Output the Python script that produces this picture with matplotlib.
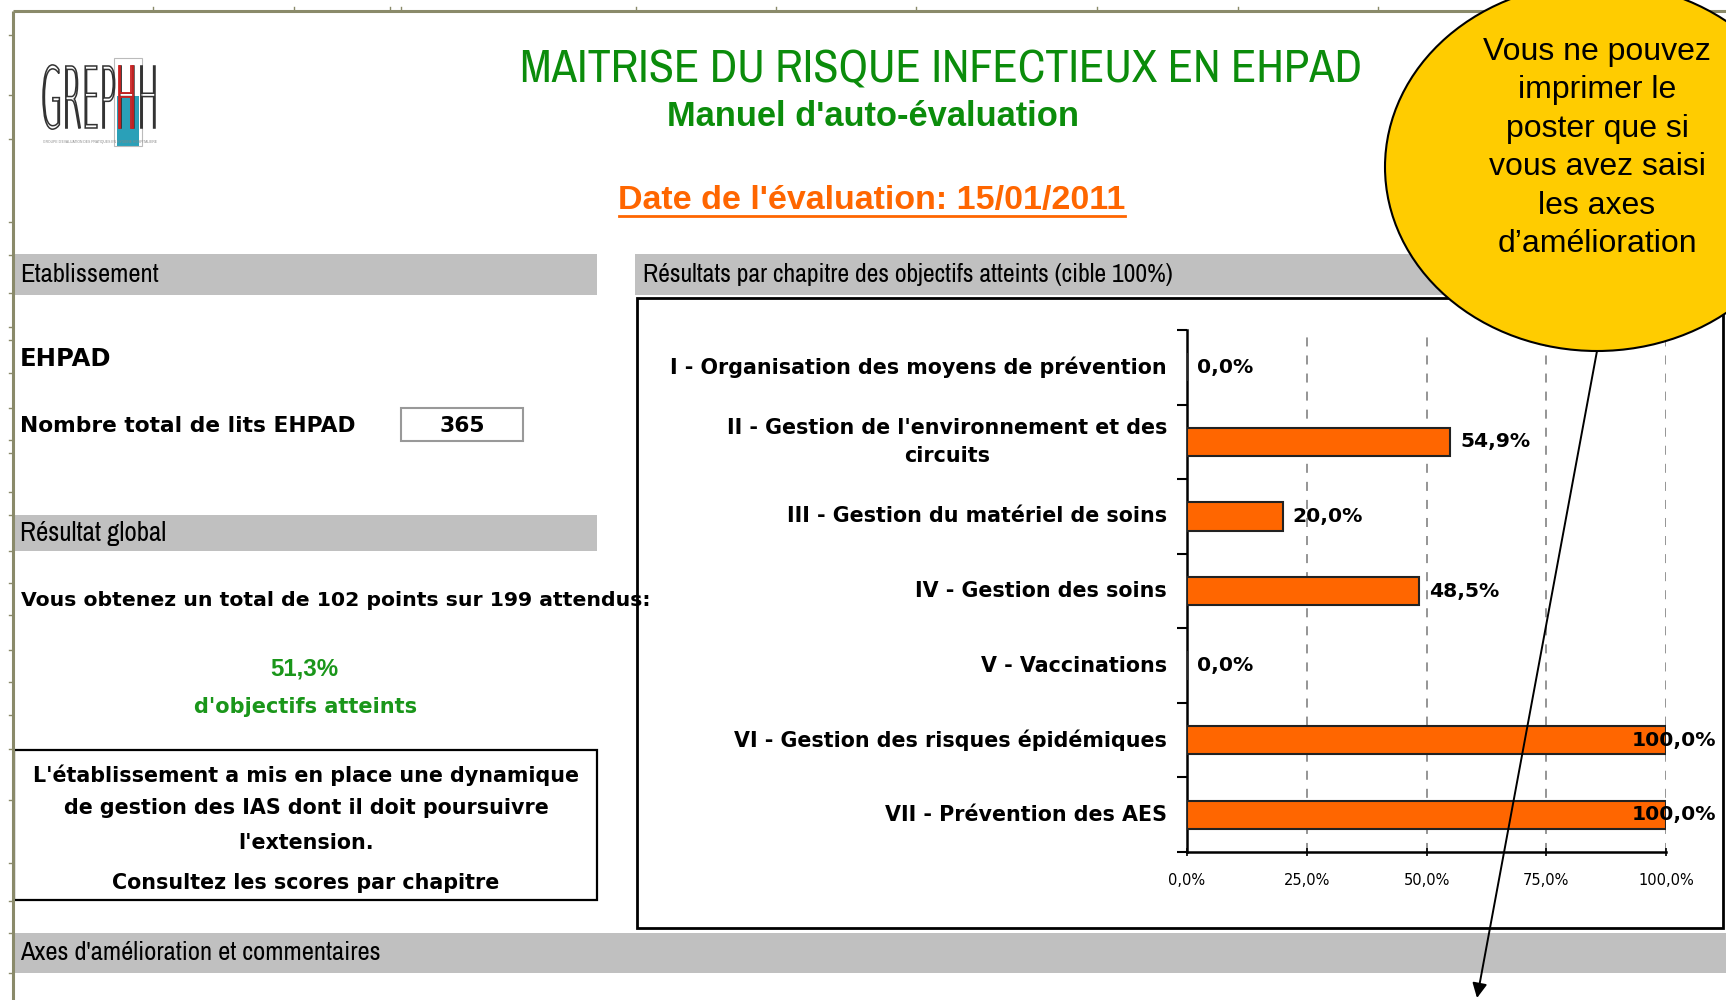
import matplotlib
matplotlib.use('Agg')
import matplotlib.pyplot as plt
import matplotlib.font_manager as fm
from matplotlib.patches import Rectangle, Ellipse, FancyArrowPatch, PathPatch
from matplotlib.textpath import TextPath
from matplotlib.font_manager import FontProperties
from matplotlib.transforms import Affine2D
from matplotlib.ticker import FuncFormatter

# ---------------- data ----------------
chapters = ["I - Organisation des moyens de prévention",
            "II - Gestion de l'environnement et des\ncircuits",
            "III - Gestion du matériel de soins",
            "IV - Gestion des soins",
            "V - Vaccinations",
            "VI - Gestion des risques épidémiques",
            "VII - Prévention des AES"]
scores = [0.0, 54.9, 20.0, 48.5, 0.0, 100.0, 100.0]
x_ticks = [0, 25, 50, 75, 100]

title = "MAITRISE DU RISQUE INFECTIEUX EN EHPAD"
subtitle = "Manuel d'auto-évaluation"
date_label = "Date de l'évaluation: 15/01/2011"
etab_type = "EHPAD"
nb_lits = 365
points_obtenus = 102
points_attendus = 199
taux_global = "51,3%"
message_lines = ["L'établissement a mis en place une dynamique",
                 "de gestion des IAS dont il doit poursuivre",
                 "l'extension.",
                 "Consultez les scores par chapitre"]
callout_text = "Vous ne pouvez\nimprimer le\nposter que si\nvous avez saisi\nles axes\nd’amélioration"

# ---------------- styles ----------------
W, H = 1726, 1000
GREEN = '#0b8c0b'
ORANGE = '#ff6600'
GREY = '#c0c0c0'
PIX = ['DejaVu Sans']
BASE = ['Liberation Sans', 'DejaVu Sans']


def weight_num(w):
    table = {'ultralight': 200, 'light': 300, 'normal': 400, 'regular': 400, 'book': 400,
             'medium': 500, 'semibold': 600, 'demibold': 600, 'bold': 700, 'heavy': 800,
             'extra bold': 800, 'black': 900}
    try:
        return int(w)
    except (TypeError, ValueError):
        return table.get(str(w).lower(), 400)


def pick_narrow():
    cands = {}
    for f in fm.fontManager.ttflist:
        if 'Narrow' in f.name or 'Condensed' in f.name:
            cands.setdefault(f.name, []).append(weight_num(f.weight))
    for n in sorted(cands):
        if any(350 <= w <= 500 for w in cands[n]):
            return dict(family=[n] + BASE)
    return dict(family=BASE)


NARROW = pick_narrow()
BOLD = dict(family=BASE, weight='bold')

fig = plt.figure(figsize=(W / 100, H / 100), dpi=100)
fig.patch.set_facecolor('white')
bg = fig.add_axes([0, 0, 1, 1], zorder=0)
bg.set_xlim(0, W); bg.set_ylim(H, 0); bg.axis('off')
renderer = fig.canvas.get_renderer()


def fit(ax, x, y, s, width, size0=12, **kw):
    kw.setdefault('va', 'center')
    t = ax.text(x, y, s, fontsize=size0, **kw)
    w = t.get_window_extent(renderer).width
    t.set_fontsize(size0 * width / w)
    return t


# Excel frame
FRAME = '#8a8a6a'
bg.plot([13, W], [11, 11], color=FRAME, lw=2.2, solid_capstyle='butt')
bg.plot([13, 13], [11, H], color=FRAME, lw=2.2, solid_capstyle='butt')
for xt in [153, 294, 390, 401, 636, 776, 916, 1097, 1238, 1378]:
    bg.plot([xt, xt], [7, 11], color=FRAME, lw=1)
for yt in [35, 95, 139, 222, 255, 293, 327, 340, 373, 408, 440, 453, 492,
           515, 551, 583, 615, 650, 682, 715, 749, 800, 863, 901, 933, 973]:
    bg.plot([9, 13], [yt, yt], color=FRAME, lw=1)

# Logo
prop = FontProperties(family='DejaVu Sans', weight='light')
tp = TextPath((0, 0), "GREPHH", size=1, prop=prop)
ext = tp.get_extents()
sx = 112 / ext.width
sy = 62 / 0.729
tr = Affine2D().translate(-ext.x0, 0).scale(sx, -sy).translate(43, 128)
tp4 = TextPath((0, 0), "GREP", size=1, prop=prop)
x5 = 43 + (tp4.get_extents().x1 - ext.x0) * sx + 4
bg.add_patch(Rectangle((x5 - 2, 96), 22, 50, facecolor='#2aa0b8', edgecolor='none', zorder=1))
bg.add_patch(Rectangle((x5 - 5, 58), 28, 88, facecolor='none', edgecolor='#bbbbbb', lw=0.8, zorder=1))
bg.add_patch(PathPatch(tr.transform_path(tp), facecolor='none', edgecolor='#333333', lw=1.1, zorder=2))
tpH = TextPath((0, 0), "H", size=1, prop=prop)
trH = Affine2D().scale(sx, -sy).translate(x5 - tpH.get_extents().x0 * sx, 128)
bg.add_patch(PathPatch(trH.transform_path(tpH), facecolor='none', edgecolor='#cc2222', lw=1.3, zorder=3))
fit(bg, 43, 142, "GROUPE D'EVALUATION DES PRATIQUES EN HYGIENE HOSPITALIERE", 114,
    ha='left', color='#888888', family=BASE)

# Titles
fit(bg, 941, 69, title, 837, ha='center', color=GREEN, **NARROW)
fit(bg, 873, 117, subtitle, 411, ha='center', color=GREEN, **BOLD)
fit(bg, 872, 200, date_label, 506, ha='center', color=ORANGE, **BOLD)
bg.plot([619, 1125], [216, 216], color=ORANGE, lw=2)

# Grey section bars
bg.add_patch(Rectangle((14, 254), 583, 41, facecolor=GREY, edgecolor='none'))
bg.add_patch(Rectangle((635, 254), W - 635, 41, facecolor=GREY, edgecolor='none'))
bg.add_patch(Rectangle((14, 515), 583, 36, facecolor=GREY, edgecolor='none'))
bg.add_patch(Rectangle((14, 933), W - 14, 40, facecolor=GREY, edgecolor='none'))
fit(bg, 20, 275, "Etablissement", 138, ha='left', **NARROW)
fit(bg, 643, 275, "Résultats par chapitre des objectifs atteints (cible 100%)", 529,
    ha='left', **NARROW)
fit(bg, 20, 533, "Résultat global", 146, ha='left', **NARROW)
fit(bg, 20, 953, "Axes d'amélioration et commentaires", 360, ha='left', **NARROW)

# Etablissement block
fit(bg, 20, 359, etab_type, 91, ha='left', family=PIX, weight='bold')
t = fit(bg, 20, 426, "Nombre total de lits EHPAD", 334, ha='left', family=PIX, weight='bold')
bg.add_patch(Rectangle((401, 408), 122, 33, facecolor='white', edgecolor='#999999', lw=1.5))
bg.text(462, 426, str(nb_lits), ha='center', va='center', family=PIX, weight='bold',
        fontsize=t.get_fontsize())

# Résultat global block
fit(bg, 21, 601, f"Vous obtenez un total de {points_obtenus} points sur {points_attendus} attendus:",
    625, ha='left', family=PIX, weight='bold')
fit(bg, 304, 669, taux_global, 68, ha='center', color='#1a961a', **BOLD)
fit(bg, 306, 707, "d'objectifs atteints", 223, ha='center', family=PIX, weight='bold', color='#1a961a')
bg.add_patch(Rectangle((14, 750), 583, 150, facecolor='white', edgecolor='black', lw=1.6))
t0 = fit(bg, 306, 775, message_lines[0], 542, ha='center', family=PIX, weight='bold')
fs = t0.get_fontsize()
for yy, line in zip([808, 843, 883], message_lines[1:]):
    bg.text(306, yy, line, ha='center', va='center', family=PIX, weight='bold', fontsize=fs)

# Chart frame
bg.add_patch(Rectangle((637, 298), 1723 - 637, 928 - 298, facecolor='white',
                       edgecolor='black', lw=2))

# ---------------- bar chart ----------------
x0, x1, ytop, ybot = 1187, 1666, 330, 852
ax = fig.add_axes([x0 / W, 1 - ybot / H, (x1 - x0) / W, (ybot - ytop) / H], zorder=1)
ax.set_facecolor('none')
ypos = list(range(len(chapters)))
ax.barh(ypos, scores, height=0.38, color=ORANGE, edgecolor='#222222', lw=1.5, zorder=3)
ax.set_xlim(0, 100)
ax.set_ylim(len(chapters) - 0.5, -0.5)
ax.set_xticks(x_ticks)
ax.xaxis.set_major_formatter(FuncFormatter(lambda v, p: f"{v:.1f}%".replace('.', ',')))
ax.set_yticks([i - 0.5 for i in range(len(chapters) + 1)])
ax.set_yticklabels([])
for xt in x_ticks[1:]:
    ax.axvline(xt, color='#8c8c8c', lw=1.3, ls=(0, (5, 5)), zorder=1)
for s in ['top', 'right']:
    ax.spines[s].set_visible(False)
for s in ['left', 'bottom']:
    ax.spines[s].set_linewidth(1.8)
ax.tick_params(axis='y', direction='out', length=7, width=1.5)
ax.tick_params(axis='x', direction='inout', length=6, width=1.2, labelsize=10.5, pad=12)
for lab in ax.get_xticklabels():
    lab.set_family(PIX)

lab_t = ax.text(-20 / (x1 - x0) * 100, 0, chapters[0], ha='right', va='center',
                family=PIX, weight='bold', fontsize=12,
                transform=ax.transData)
w = lab_t.get_window_extent(renderer).width
cfs = 12 * 496 / w
lab_t.set_fontsize(cfs)
for i, c in enumerate(chapters[1:], start=1):
    ax.text(-20 / (x1 - x0) * 100, i, c, ha='right', va='center', multialignment='center',
            family=PIX, weight='bold', fontsize=cfs, linespacing=1.5)
for i, v in enumerate(scores):
    lbl = f"{v:.1f}%".replace('.', ',')
    off = -34 if v >= 90 else 10
    ax.annotate(lbl, xy=(v, i), xytext=(off, 0), textcoords='offset pixels',
                ha='left', va='center', family=PIX, weight='bold', fontsize=cfs * 0.98,
                zorder=5, annotation_clip=False)

# ---------------- callout overlay ----------------
ov = fig.add_axes([0, 0, 1, 1], zorder=2)
ov.set_xlim(0, W); ov.set_ylim(H, 0); ov.axis('off')
ov.patch.set_visible(False)
ov.add_patch(Ellipse((1597, 167), 424, 368, facecolor='#ffcc00', edgecolor='black', lw=1.5))
ov.text(1597, 148, callout_text, ha='center', va='center', family=BASE,
        fontsize=23, linespacing=1.37, color='black')
ov.add_patch(FancyArrowPatch((1597, 351), (1477, 998), arrowstyle='-|>', mutation_scale=22,
                             color='black', lw=1.4, shrinkA=0, shrinkB=0))

fig.savefig('out.png', dpi=100)
